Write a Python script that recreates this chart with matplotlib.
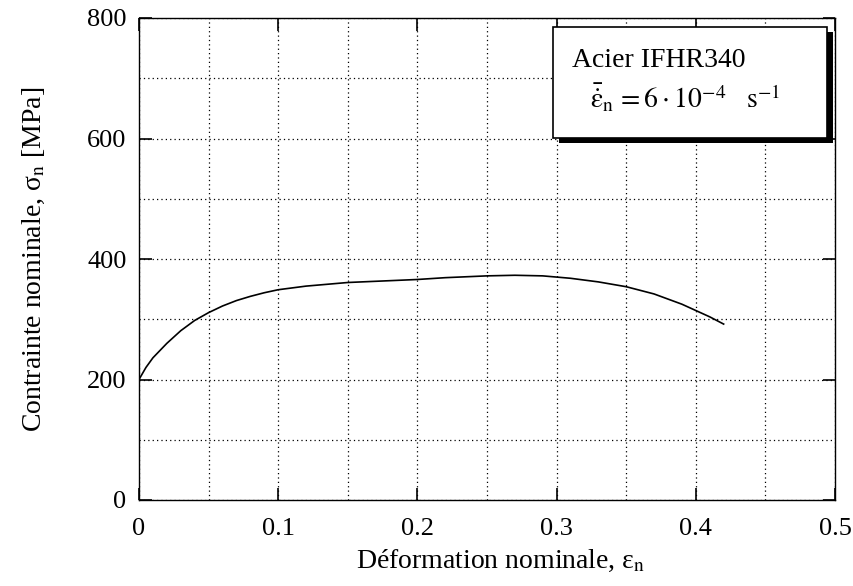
import matplotlib.pyplot as plt
from matplotlib.patches import Rectangle
import numpy as np

# courbe de traction
strain = [0.0, 0.0, 0.005, 0.01, 0.02, 0.03, 0.04, 0.05, 0.06, 0.07, 0.08, 0.09, 0.10, 0.12, 0.15,
          0.18, 0.20, 0.22, 0.25, 0.27, 0.29, 0.31, 0.33, 0.35, 0.37, 0.39, 0.41, 0.42]
stress = [0.0, 200, 220, 236, 260, 281, 298, 311, 322, 331, 338, 344, 349, 355, 361,
          364, 366, 369, 372, 373, 372, 368, 362, 354, 342, 325, 304, 292]

xticks = [0, 0.1, 0.2, 0.3, 0.4, 0.5]
xticklabels = ['0', '0.1', '0.2', '0.3', '0.4', '0.5']
yticks = [0, 200, 400, 600, 800]

plt.rcParams['font.family'] = ['Liberation Serif', 'DejaVu Serif']
plt.rcParams['mathtext.fontset'] = 'stix'

fig = plt.figure(figsize=(8.54, 5.86), dpi=100)
ax = fig.add_axes([139 / 854, 1 - 500 / 586, 696 / 854, 482 / 586])

ax.plot(strain, stress, color='black', linewidth=1.2)

ax.set_xlim(0, 0.5)
ax.set_ylim(0, 800)
ax.set_xticks(xticks)
ax.set_xticklabels(xticklabels)
ax.set_yticks(yticks)
ax.set_xticks(np.arange(0.05, 0.5, 0.1), minor=True)
ax.set_yticks(np.arange(100, 800, 200), minor=True)
ax.tick_params(which='both', direction='in', top=True, right=True, labelsize=19, length=9, width=1.2)
ax.tick_params(axis='x', pad=13)
ax.tick_params(axis='y', pad=9)
ax.tick_params(which='minor', length=0)
ax.grid(which='both', color='black', linestyle=(0, (1, 2.5)), linewidth=0.9)
for s in ax.spines.values():
    s.set_linewidth(1.0)

ax.set_xlabel(r'Déformation nominale, ε$_{\rm n}$', fontsize=20)
ax.set_ylabel(r'Contrainte nominale, σ$_{\rm n}$ [MPa]', fontsize=20)
ax.xaxis.set_label_coords(0.52, -0.1)
ax.yaxis.set_label_coords(-0.132, 0.5)

# encadré avec ombre
shadow = Rectangle((0.3017, 592.5), 0.1968, 184, facecolor='black', edgecolor='none', zorder=4, clip_on=False)
box = Rectangle((0.2974, 601), 0.1968, 184, facecolor='white', edgecolor='black', linewidth=1.2, zorder=5, clip_on=False)
ax.add_patch(shadow)
ax.add_patch(box)
ax.text(0.311, 719, 'Acier IFHR340', fontsize=20, zorder=6, va='baseline')
ax.text(0.324, 650, r'$\bar{\dot{\mathrm{\varepsilon}}}_{\rm n}\,=6\cdot 10^{-4}\quad {\rm s}^{-1}$',
        fontsize=20, zorder=6, va='baseline')

fig.savefig('out.png', dpi=100)
